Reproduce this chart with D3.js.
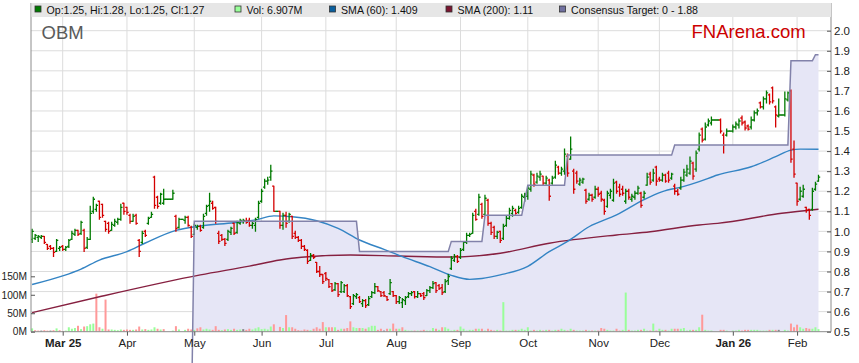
<!DOCTYPE html>
<html>
<head>
<meta charset="utf-8">
<script src="https://cdn.jsdelivr.net/npm/d3@7"></script>
<style>
body { margin: 0; background: #fff; }
text { font-family: Arial, "Liberation Sans", sans-serif; }
</style>
</head>
<body>
<div class="CHART"></div>
<script>
// daily bars, index 0 = 17 Feb 2025, one slot per weekday (holidays are flat)
var opens = [.96,.965,.97,.97,.975,.935,.925,.915,.90,.915,
.925,.91,.925,.96,.985,1.005,.99,1.005,.92,.96,
1.10,1.11,1.15,1.135,1.05,1.04,1.005,1.03,1.045,1.06,
1.14,1.12,1.08,1.05,1.08,.955,.945,1.0,1.04,1.07,
1.27,1.17,1.14,1.14,1.16,1.16,1.16,1.075,1.02,1.06,
1.055,1.07,1.02,.985,1.02,1.025,1.02,1.09,1.13,1.14,
1.12,.99,.98,.96,.96,.995,1.04,.995,1.04,1.05,
1.05,1.055,1.03,1.03,1.07,1.15,1.22,1.25,1.27,1.225,
1.10,1.10,1.03,1.08,1.05,1.075,.99,.97,.955,.925,
.905,.855,.88,.845,.80,.785,.79,.76,.74,.71,
.74,.70,.70,.73,.675,.64,.675,.67,.64,.655,
.635,.675,.695,.725,.70,.695,.675,.69,.70,.68,
.65,.645,.655,.675,.69,.70,.675,.69,.69,.68,
.705,.72,.745,.73,.72,.70,.755,.815,.855,.875,
.87,.91,.945,.98,.99,1.10,1.085,1.135,1.085,1.155,
1.04,1.02,.975,1.0,.965,1.03,1.065,1.09,1.105,1.095,
1.12,1.17,1.175,1.21,1.28,1.245,1.27,1.275,1.24,1.255,
1.24,1.27,1.32,1.29,1.30,1.375,1.36,1.30,1.29,1.235,
1.245,1.205,1.16,1.18,1.17,1.21,1.19,1.155,1.125,1.18,
1.155,1.245,1.22,1.21,1.15,1.20,1.16,1.17,1.19,1.19,
1.17,1.23,1.285,1.255,1.32,1.26,1.255,1.28,1.29,1.265,
1.225,1.20,1.215,1.255,1.28,1.29,1.34,1.31,1.41,1.51,
1.46,1.53,1.54,1.555,1.555,1.555,1.48,1.48,1.50,1.50,
1.52,1.53,1.565,1.545,1.525,1.52,1.555,1.59,1.64,1.62,
1.66,1.68,1.715,1.62,1.575,1.58,1.58,1.655,1.70,1.41,
1.24,1.16,1.175,1.12,1.11,1.11,1.21,1.25];

var highs = [1.01,.985,.98,.98,.975,.935,.93,.92,.96,.925,
.93,.925,.96,1.0,1.01,1.005,1.05,1.01,.97,1.125,
1.17,1.135,1.15,1.135,1.05,1.045,1.045,1.06,1.065,1.135,
1.14,1.12,1.085,1.085,1.085,.96,1.0,1.005,1.07,1.095,
1.275,1.175,1.19,1.21,1.16,1.16,1.205,1.08,1.065,1.06,
1.075,1.075,1.025,1.035,1.03,1.03,1.085,1.13,1.19,1.15,
1.12,1.0,.985,.965,1.005,1.02,1.04,1.05,1.06,1.06,
1.065,1.065,1.045,1.065,1.15,1.21,1.26,1.27,1.33,1.225,
1.10,1.10,1.09,1.095,1.09,1.075,1.0,.975,.96,.93,
.908,.89,.885,.845,.825,.785,.795,.76,.74,.745,
.74,.75,.735,.735,.675,.685,.69,.675,.66,.66,
.675,.70,.74,.725,.70,.70,.675,.76,.70,.68,
.675,.665,.675,.695,.70,.70,.70,.69,.695,.71,
.725,.75,.745,.735,.735,.76,.785,.875,.885,.88,
.915,.95,.99,.99,1.09,1.11,1.185,1.14,1.18,1.16,
1.045,1.025,1.0,1.0,1.035,1.075,1.115,1.125,1.11,1.125,
1.185,1.19,1.225,1.30,1.285,1.29,1.30,1.275,1.275,1.26,
1.275,1.35,1.325,1.32,1.41,1.385,1.47,1.31,1.30,1.265,
1.265,1.21,1.19,1.185,1.225,1.22,1.20,1.16,1.20,1.21,
1.26,1.25,1.235,1.225,1.21,1.21,1.185,1.20,1.225,1.195,
1.20,1.29,1.295,1.31,1.325,1.27,1.29,1.285,1.30,1.29,
1.235,1.21,1.27,1.31,1.33,1.37,1.345,1.40,1.49,1.515,
1.54,1.56,1.57,1.555,1.555,1.56,1.49,1.51,1.50,1.53,
1.545,1.56,1.575,1.55,1.53,1.57,1.60,1.61,1.645,1.67,
1.70,1.685,1.72,1.625,1.66,1.58,1.695,1.695,1.705,1.45,
1.24,1.22,1.23,1.12,1.11,1.215,1.245,1.28];

var lows = [.945,.96,.95,.965,.94,.91,.91,.875,.90,.905,
.905,.905,.92,.96,.98,.98,.985,.90,.915,.96,
1.09,1.10,1.06,1.07,1.0,.99,1.005,1.025,1.035,1.055,
1.085,1.085,1.04,1.05,1.035,.875,.94,.975,1.035,1.07,
1.115,1.115,1.135,1.135,1.16,1.16,1.16,1.0,1.015,1.06,
1.04,1.025,.97,.985,1.01,1.0,1.015,1.08,1.10,1.11,
1.04,.94,.955,.93,.955,.985,.985,.99,1.035,1.04,
1.04,1.025,1.015,1.0,1.065,1.145,1.215,1.235,1.255,1.10,
1.10,1.015,1.01,1.02,1.045,.965,.965,.95,.915,.905,
.84,.855,.865,.795,.775,.74,.755,.72,.70,.705,
.675,.695,.695,.675,.615,.635,.665,.645,.625,.62,
.63,.67,.69,.70,.675,.675,.655,.685,.675,.64,
.64,.62,.635,.67,.68,.668,.67,.675,.66,.68,
.695,.715,.695,.71,.685,.695,.735,.81,.85,.845,
.865,.905,.94,.975,.99,1.055,1.08,1.065,1.08,1.03,
.985,.965,.965,.945,.96,1.025,1.06,1.075,1.085,1.09,
1.115,1.15,1.16,1.20,1.225,1.24,1.255,1.23,1.235,1.155,
1.235,1.265,1.285,1.28,1.285,1.275,1.36,1.19,1.24,1.23,
1.24,1.14,1.155,1.15,1.165,1.175,1.15,1.085,1.12,1.165,
1.15,1.19,1.175,1.18,1.14,1.16,1.15,1.16,1.185,1.12,
1.165,1.23,1.235,1.25,1.23,1.25,1.25,1.245,1.245,1.26,
1.185,1.18,1.21,1.25,1.275,1.285,1.26,1.30,1.40,1.445,
1.455,1.525,1.53,1.555,1.555,1.49,1.39,1.475,1.50,1.495,
1.51,1.515,1.53,1.505,1.505,1.51,1.55,1.58,1.615,1.61,
1.64,1.635,1.64,1.52,1.57,1.58,1.575,1.65,1.345,1.27,
1.13,1.155,1.17,1.095,1.06,1.105,1.205,1.25];

var closes = [1.0,.98,.975,.975,.945,.915,.915,.895,.955,.92,
.91,.92,.955,.99,1.005,.985,1.045,.915,.96,1.09,
1.16,1.13,1.07,1.08,1.01,1.0,1.035,1.05,1.06,1.12,
1.10,1.095,1.05,1.075,1.04,.90,.99,.98,1.065,1.085,
1.13,1.125,1.185,1.16,1.16,1.16,1.19,1.015,1.06,1.06,
1.07,1.03,.975,1.03,1.025,1.005,1.075,1.125,1.15,1.115,
1.05,.95,.96,.94,1.0,1.015,.99,1.045,1.055,1.055,
1.045,1.03,1.04,1.06,1.14,1.20,1.25,1.255,1.30,1.10,
1.10,1.03,1.08,1.04,1.085,.975,.97,.955,.925,.91,
.85,.88,.87,.80,.785,.75,.765,.725,.705,.74,
.685,.745,.73,.68,.625,.68,.685,.65,.655,.63,
.665,.695,.725,.705,.68,.68,.66,.745,.68,.65,
.67,.66,.67,.69,.695,.675,.69,.68,.67,.705,
.72,.74,.705,.715,.695,.75,.775,.865,.875,.85,
.905,.945,.98,.985,1.08,1.06,1.17,1.075,1.165,1.04,
.995,.975,.995,.955,1.025,1.065,1.105,1.115,1.09,1.115,
1.175,1.185,1.215,1.285,1.235,1.275,1.285,1.24,1.265,1.175,
1.265,1.33,1.29,1.31,1.385,1.29,1.41,1.21,1.25,1.255,
1.26,1.15,1.18,1.16,1.21,1.185,1.16,1.10,1.19,1.20,
1.24,1.20,1.185,1.19,1.20,1.17,1.175,1.19,1.215,1.13,
1.19,1.27,1.245,1.29,1.25,1.255,1.28,1.25,1.255,1.285,
1.20,1.185,1.255,1.295,1.31,1.35,1.275,1.39,1.48,1.455,
1.52,1.55,1.555,1.555,1.555,1.50,1.43,1.50,1.50,1.52,
1.535,1.55,1.54,1.515,1.51,1.555,1.59,1.60,1.62,1.66,
1.69,1.645,1.65,1.58,1.58,1.58,1.66,1.69,1.36,1.285,
1.15,1.20,1.21,1.105,1.08,1.20,1.235,1.27];

// volume in millions
var vols = [9,4,3,3,4,3,3,4,9,4,
2,3,12,8,10,16,7,14,15,20,
22,103,12,8,87,6,6,5,4,6,
5,6,5,5,6,14,6,7,5,6,
12,8,6,7,0,0,3,15,6,0,
5,8,6,5,9,12,6,8,6,5,
15,5,4,6,7,5,8,5,6,7,
5,8,6,9,12,7,8,6,14,20,
0,13,10,45,12,12,8,4,3,6,
5,4,8,12,8,26,12,12,12,12,
5,8,8,10,28,12,10,10,10,8,
12,16,16,5,8,3,8,8,22,8,
8,12,5,3,3,3,3,3,5,3,
3,10,8,5,12,12,8,3,5,5,
14,8,3,5,5,8,8,8,3,8,
5,3,5,3,80,3,3,5,5,5,
8,5,12,3,5,3,5,3,5,5,
3,5,5,8,5,3,8,5,3,3,
3,5,3,3,3,3,10,8,5,3,
3,8,3,5,106,5,3,3,5,5,
8,3,3,22,3,8,5,5,3,8,
8,8,8,10,3,5,5,5,12,46,
5,3,3,0,0,5,5,3,0,3,
3,5,3,5,5,5,5,5,3,3,
3,5,5,5,5,0,5,3,22,12,
19,12,8,10,8,8,12,6.907];

var sma60Idx = [0,10,16,22,31,37,47,55,66,73,79,85,93,100,107,115,121,130,137,143,147,153,162,169,175,182,191,200,206,213,218,224,235,243,248,251,257];
var sma60 = [0.735,0.778,0.812,0.857,0.899,0.942,1.005,1.027,1.043,1.057,1.077,1.073,1.053,1.015,0.957,0.91,0.874,0.824,0.781,0.761,0.765,0.783,0.826,0.899,0.95,1.023,1.082,1.158,1.198,1.224,1.248,1.281,1.322,1.372,1.405,1.41,1.409];
var sma200Idx = [0,22,55,71,81,88,104,120,137,153,169,191,202,218,224,245,257];
var sma200 = [0.595,0.674,0.783,0.827,0.857,0.871,0.882,0.877,0.872,0.891,0.941,0.982,0.998,1.032,1.04,1.09,1.11];

// consensus target steps
var consIdx = [0,52,53,106,107,136,137,147,148,160,162,174,175,209,210,247,248,255,256,257];
var consVal = [0,0,1.05,1.05,0.90,0.90,0.95,0.95,1.08,1.08,1.23,1.23,1.38,1.38,1.43,1.43,1.85,1.85,1.88,1.88];

var monthIdx = [10,31,53,75,96,119,140,162,185,205,229,250];
var monthLabels = ["Mar 25","Apr","May","Jun","Jul","Aug","Sep","Oct","Nov","Dec","Jan 26","Feb"];
var priceTicks = [0.5,0.6,0.7,0.8,0.9,1.0,1.1,1.2,1.3,1.4,1.5,1.6,1.7,1.8,1.9,2.0];
var volTicks = [0,50,100,150];

var L = 31, R = 831, T = 3, B = 331.7;

var canvas = d3.select(".CHART").append("svg")
	.attr("width", 859)
	.attr("height", 363);

var x = d3.scaleLinear().domain([0, 257]).range([32.1, 818.5]);
var y = d3.scaleLinear().domain([0.5, 2.0]).range([B, 30.7]);
var yv = d3.scaleLinear().domain([0, 150]).range([B, 276.3]);

canvas.append("defs").append("clipPath").attr("id", "clip")
	.append("rect").attr("x", L).attr("y", 17).attr("width", R - L).attr("height", B - 17);

// grid
canvas.append("g").selectAll("line").data(priceTicks.slice(1)).join("line")
	.attr("x1", L).attr("x2", R)
	.attr("y1", d => y(d)).attr("y2", d => y(d))
	.attr("stroke", "#dcdcdc").attr("stroke-width", 1);
canvas.append("g").selectAll("line").data(monthIdx).join("line")
	.attr("x1", d => x(d)).attr("x2", d => x(d))
	.attr("y1", 17).attr("y2", B)
	.attr("stroke", "#dcdcdc").attr("stroke-width", 1);

var clipped = canvas.append("g").attr("clip-path", "url(#clip)");

// consensus area
var cons = consIdx.map((d, k) => [d, consVal[k]]);
clipped.append("path").datum(cons)
	.attr("d", d3.area().x(d => x(d[0])).y0(B).y1(d => y(d[1])))
	.attr("fill", "#e6e6f6");

// volume
clipped.append("g").selectAll("rect").data(d3.range(vols.length).filter(i => vols[i] > 0)).join("rect")
	.attr("x", i => x(i) - 1)
	.attr("width", 2)
	.attr("y", i => yv(vols[i]))
	.attr("height", i => B - yv(vols[i]))
	.attr("fill", function(i) {
		var prev = i > 0 ? closes[i - 1] : opens[i];
		if (closes[i] > prev) return "#99ff99";
		if (closes[i] < prev) return "#ff9999";
		return "#888888";
	});

// moving averages
var lineGen = d3.line().x(d => x(d[0])).y(d => y(d[1])).curve(d3.curveMonotoneX);
clipped.append("path").datum(sma200Idx.map((d, k) => [d, sma200[k]]))
	.attr("d", lineGen).attr("fill", "none")
	.attr("stroke", "#862040").attr("stroke-width", 1.4);
clipped.append("path").datum(sma60Idx.map((d, k) => [d, sma60[k]]))
	.attr("d", lineGen).attr("fill", "none")
	.attr("stroke", "#3484c4").attr("stroke-width", 1.4);

// consensus line, not clipped so the jump in May runs below the axis
canvas.append("path").datum(cons)
	.attr("d", d3.line().x(d => x(d[0])).y(d => y(d[1])))
	.attr("fill", "none")
	.attr("stroke", "#8282aa").attr("stroke-width", 1.5);

// OHLC bars
var bar = clipped.append("g").selectAll("g").data(d3.range(opens.length)).join("g")
	.attr("stroke", i => closes[i] >= opens[i] ? "#007a00" : "#d40000")
	.attr("stroke-width", 1.3);
bar.append("line")
	.attr("x1", i => x(i)).attr("x2", i => x(i))
	.attr("y1", i => y(highs[i]) - 0.5).attr("y2", i => y(lows[i]) + 0.5);
bar.append("line")
	.attr("x1", i => x(i) - 1.7).attr("x2", i => x(i))
	.attr("y1", i => y(opens[i])).attr("y2", i => y(opens[i]));
bar.append("line")
	.attr("x1", i => x(i)).attr("x2", i => x(i) + 1.7)
	.attr("y1", i => y(closes[i])).attr("y2", i => y(closes[i]));

// frame
canvas.append("line").attr("x1", L).attr("x2", L).attr("y1", T).attr("y2", B)
	.attr("stroke", "#8c8c8c");
canvas.append("line").attr("x1", L).attr("x2", R).attr("y1", B).attr("y2", B)
	.attr("stroke", "#8c8c8c");

// right price axis
var yAxis = canvas.append("g").attr("transform", "translate(" + R + ",0)")
	.call(d3.axisRight(y).tickValues(priceTicks).tickFormat(d3.format(".1f"))
		.tickSizeInner(-4).tickSizeOuter(0).tickPadding(3));
yAxis.select(".domain").attr("d", "M0," + T + "V" + B).attr("stroke", "#8c8c8c");
yAxis.selectAll(".tick line").attr("stroke", "#555");
yAxis.selectAll("text").attr("font-size", "11.5px").attr("fill", "#222")
	.attr("font-family", "Arial, 'Liberation Sans', sans-serif");

// left volume axis
var vAxis = canvas.append("g").attr("transform", "translate(" + L + ",0)")
	.call(d3.axisLeft(yv).tickValues(volTicks).tickFormat(d => d + "M")
		.tickSizeInner(-4).tickSizeOuter(0).tickPadding(4));
vAxis.select(".domain").remove();
vAxis.selectAll(".tick line").attr("stroke", "#555");
vAxis.selectAll("text").attr("font-size", "10.2px").attr("fill", "#222")
	.attr("font-family", "Arial, 'Liberation Sans', sans-serif");

// month axis
var xAxis = canvas.append("g").attr("transform", "translate(0," + B + ")")
	.call(d3.axisBottom(x).tickValues(monthIdx).tickFormat((d, k) => monthLabels[k])
		.tickSizeInner(4).tickSizeOuter(0).tickPadding(3));
xAxis.select(".domain").remove();
xAxis.selectAll(".tick line").attr("stroke", "#555");
xAxis.selectAll("text").attr("font-size", "11.5px").attr("fill", "#222")
	.attr("font-family", "Arial, 'Liberation Sans', sans-serif")
	.attr("font-weight", (d, k) => monthLabels[k].indexOf(" ") > 0 ? 700 : 400);

// legend strip
canvas.append("rect").attr("x", L + 0.5).attr("y", T).attr("width", R - L - 0.5).attr("height", 14)
	.attr("fill", "#e6e6e6");

var last = opens.length - 1;
var legend = [
	{x: 35, c: "#007a00", t: "Op:" + opens[last].toFixed(2) + ", Hi:" + highs[last].toFixed(2) + ", Lo:" + lows[last].toFixed(2) + ", Cl:" + closes[last].toFixed(2)},
	{x: 235, c: "#99ff99", t: "Vol: " + vols[last] + "M"},
	{x: 329.5, c: "#0a5f9e", t: "SMA (60): " + sma60[sma60.length - 1]},
	{x: 446, c: "#7a1530", t: "SMA (200): " + sma200[sma200.length - 1]},
	{x: 559.5, c: "#7070a0", t: "Consensus Target: 0 - " + d3.max(consVal)}
];
var lg = canvas.append("g").selectAll("g").data(legend).join("g");
lg.append("rect")
	.attr("x", d => d.x).attr("y", 6)
	.attr("width", 6).attr("height", 6)
	.attr("fill", d => d.c)
	.attr("stroke", "#333").attr("stroke-width", 0.8);
lg.append("text")
	.attr("x", d => d.x + 11.5).attr("y", 14)
	.attr("font-size", "10.6px").attr("fill", "#111")
	.text(d => d.t);

canvas.append("text")
	.attr("x", 41.5).attr("y", 39.3)
	.attr("font-size", "18.5px").attr("fill", "#5a5a5a")
	.text("OBM");

canvas.append("text")
	.attr("x", 691.5).attr("y", 38.3)
	.attr("font-size", "18.5px").attr("fill", "#cc0000")
	.text("FNArena.com");
</script>
</body>
</html>
